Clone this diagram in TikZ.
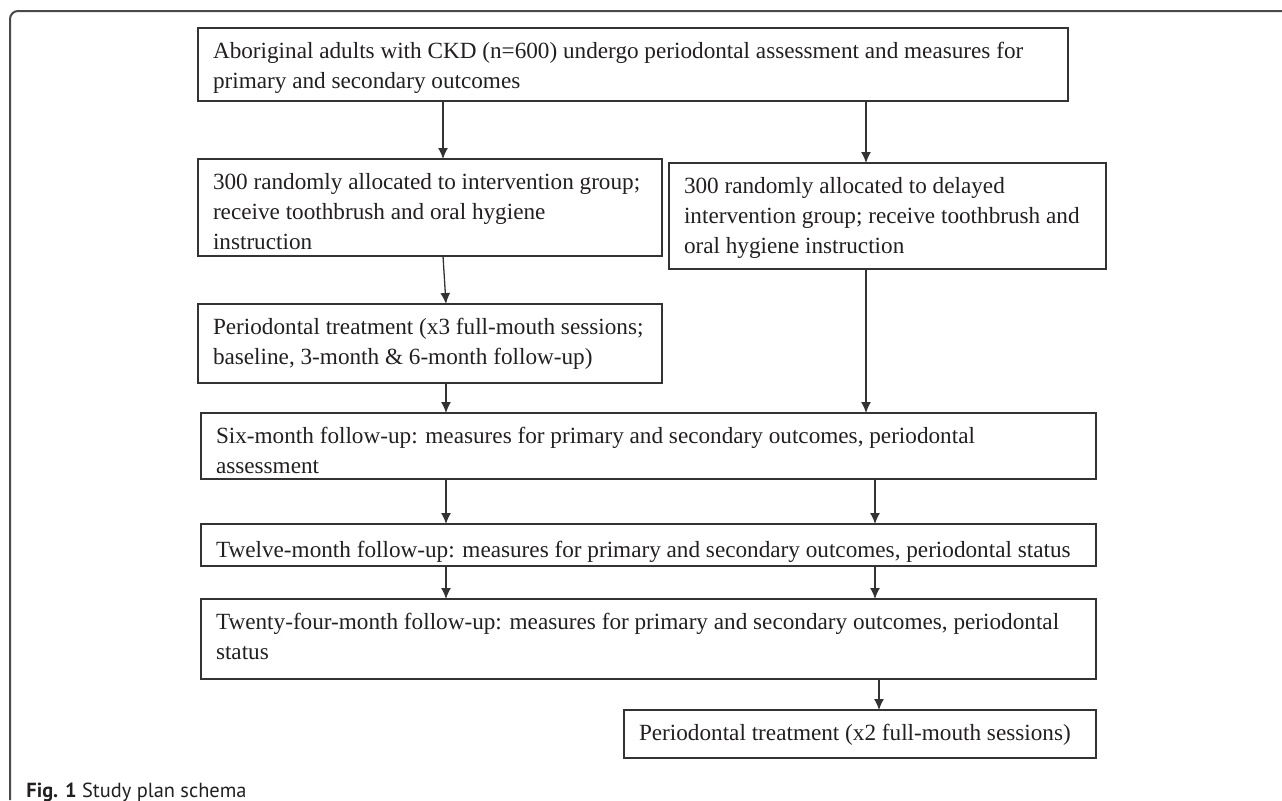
\documentclass[tikz,border=0pt]{standalone}
\usepackage{fontspec}
\setmainfont{Liberation Serif}
\newfontfamily\capfont{PT Sans}
\usetikzlibrary{arrows.meta}
\definecolor{ink}{HTML}{231F20}
\definecolor{rule}{HTML}{333333}
\definecolor{framegray}{HTML}{4A4A4A}
\tikzset{
  >={Latex[length=5.5pt,width=5pt]},
}
\tikzstyle{stage}=[draw=rule,line width=0.65pt,anchor=north west,inner xsep=7.5pt,inner ysep=0pt,outer sep=0pt,text=ink]
\tikzstyle{flow}=[->,draw=rule,line width=0.65pt]
\tikzstyle{every node}=[font=\fontsize{11.6}{15}\selectfont]
\newcommand{\stagetext}[4][4.5pt]{\begin{minipage}[t][#3][t]{#2}\vspace{#1}\raggedright\rightskip=0pt plus 1fil minus 8pt\strut #4\end{minipage}}

\begin{document}
\begin{tikzpicture}[x=0.5pt,y=-0.5pt]
    \useasboundingbox (0,0) rectangle (1282,800);
    \draw[framegray,line width=1pt,rounded corners=4pt] (10,800) -- (10,11) -- (1282,11);
    \node[stage] (assess) at (198,28) {\stagetext{420pt}{36.5pt}{Aboriginal adults with CKD (n=600) undergo periodontal assessment and measures for\\ primary and secondary outcomes}};
    \node[stage] (interv) at (198,159) {\stagetext{217pt}{48.5pt}{300 randomly allocated to intervention group;\\ receive toothbrush and oral hygiene\\ instruction}};
    \node[stage] (delay) at (669,163) {\stagetext{203.5pt}{53pt}{300 randomly allocated to delayed\\ intervention group; receive toothbrush and\\ oral hygiene instruction}};
    \node[stage] (perio) at (198,304) {\stagetext{217pt}{39.5pt}{Periodontal treatment (x3 full-mouth sessions;\\ baseline, 3-month \& 6-month follow-up)}};
    \node[stage] (six) at (201,413) {\stagetext{432.5pt}{33pt}{Six-month follow-up: measures for primary and secondary outcomes, periodontal\\ assessment}};
    \node[stage] (twelve) at (201,524) {\stagetext[6pt]{432.5pt}{21pt}{Twelve-month follow-up: measures for primary and secondary outcomes, periodontal status}};
    \node[stage] (twentyfour) at (201,599) {\stagetext{432.5pt}{40pt}{Twenty-four-month follow-up: measures for primary and secondary outcomes, periodontal\\ status}};
    \node[stage] (final) at (624,710) {\stagetext{221pt}{24pt}{Periodontal treatment (x2 full-mouth sessions)}};
    \node[anchor=base west,inner sep=0pt,text=ink,font=\capfont\fontsize{10.2}{12}\selectfont] (caption) at (26,797) {\textbf{Fig. 1} Study plan schema};
    \coordinate (lcol) at (443,0);
    \coordinate (lcolb) at (446,0);
    \coordinate (rcol) at (866,0);
    \coordinate (rcolb) at (875,0);
    \coordinate (rcolc) at (879,0);
    \draw[flow] (assess.south -| lcol) -- (interv.north -| lcol);
    \draw[flow] (assess.south -| rcol) -- (delay.north -| rcol);
    \draw[flow] (interv.south -| lcol) -- (perio.north -| lcolb);
    \draw[flow] (perio.south -| lcolb) -- (six.north -| lcolb);
    \draw[flow] (delay.south -| rcol) -- (six.north -| rcol);
    \draw[flow] (six.south -| lcolb) -- (twelve.north -| lcolb);
    \draw[flow] (six.south -| rcolb) -- (twelve.north -| rcolb);
    \draw[flow] (twelve.south -| lcolb) -- (twentyfour.north -| lcolb);
    \draw[flow] (twelve.south -| rcolb) -- (twentyfour.north -| rcolb);
    \draw[flow] (twentyfour.south -| rcolc) -- (final.north -| rcolc);
\end{tikzpicture}
\end{document}
